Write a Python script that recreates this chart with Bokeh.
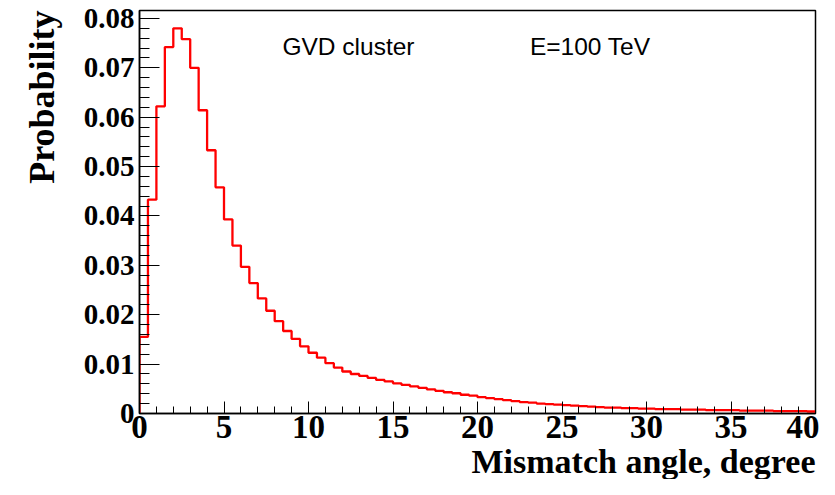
import numpy as np
from bokeh.plotting import figure
from bokeh.models import Range1d, SingleIntervalTicker, Label, Title
from bokeh.embed import file_html
from bokeh.resources import INLINE

# Histogram: mismatch angle (deg), bin width 0.5, range 0..40
bin_width = 0.5
x_start = 0.0
probability = [
    0.0155, 0.0433, 0.0622, 0.0742, 0.0780, 0.0758, 0.0700, 0.0614, 0.0533, 0.0458,
    0.0393, 0.0340, 0.0297, 0.0264, 0.0233, 0.0208, 0.0187, 0.0167, 0.0151, 0.0136,
    0.0123, 0.0113, 0.0102, 0.0093, 0.0085, 0.0080, 0.0076, 0.0072, 0.0068, 0.0065,
    0.0061, 0.0058, 0.0055, 0.0052, 0.0049, 0.0046, 0.0043, 0.0041, 0.0038, 0.0036,
    0.0033, 0.0031, 0.0029, 0.0027, 0.0025, 0.0023, 0.0022, 0.0020, 0.0019, 0.0018,
    0.0017, 0.0016, 0.0015, 0.0014, 0.0013, 0.0012, 0.0012, 0.0011, 0.0011, 0.0010,
    0.0010, 0.0009, 0.0009, 0.0009, 0.0008, 0.0008, 0.0008, 0.0007, 0.0007, 0.0007,
    0.0007, 0.0006, 0.0006, 0.0006, 0.0006, 0.0005, 0.0005, 0.0005, 0.0005, 0.0004,
]
x_title = "Mismatch angle, degree"
y_title = "Probability"
text_cluster = "GVD cluster"
text_energy = "E=100 TeV"

n = len(probability)
edges = x_start + bin_width * np.arange(n + 1)
step_x = np.concatenate([[edges[0]], edges])
step_y = np.concatenate([[0.0], probability, [probability[-1]]])

p = figure(width=819, height=479, output_backend="svg", toolbar_location=None,
           x_range=Range1d(0, 40), y_range=Range1d(0, 0.0816),
           min_border_left=139, min_border_right=4, min_border_top=10,
           min_border_bottom=64)
p.background_fill_color = "white"
p.border_fill_color = "white"
p.outline_line_color = "black"
p.outline_line_width = 1.5
p.grid.visible = False

p.step(step_x, step_y, mode="after", line_color="#ff0000", line_width=2.3)

serif = "Liberation Serif"
for ax in (p.xaxis[0], p.yaxis[0]):
    ax.axis_line_color = "black"
    ax.axis_line_width = 1.5
    ax.major_tick_line_color = "black"
    ax.minor_tick_line_color = "black"
    ax.major_tick_out = 0
    ax.minor_tick_out = 0
    ax.major_label_text_font = serif
    ax.major_label_text_font_style = "bold"
    ax.major_label_text_color = "black"

xa = p.xaxis[0]
xa.ticker = SingleIntervalTicker(interval=5, num_minor_ticks=5)
xa.major_tick_in = 12
xa.minor_tick_in = 7
xa.major_label_text_font_size = "33px"
xa.major_label_standoff = 2

ya = p.yaxis[0]
ya.ticker = SingleIntervalTicker(interval=0.01, num_minor_ticks=5)
ya.major_tick_in = 20
ya.minor_tick_in = 10
ya.major_label_text_font_size = "29px"
ya.major_label_standoff = 5
ya.major_label_overrides = {0: "0"}

p.add_layout(Title(text=x_title, align="right", text_font=serif, text_font_style="bold",
                   text_font_size="34px", text_color="black", standoff=0), "below")
p.add_layout(Title(text=y_title, align="right", text_font=serif, text_font_style="bold",
                   text_font_size="36px", text_color="black", standoff=37), "left")

p.add_layout(Label(x=8.46, y=0.0744, text=text_cluster, text_font="Liberation Sans",
                   text_font_size="24.5px", text_color="black", text_baseline="alphabetic"))
p.add_layout(Label(x=23.1, y=0.0744, text=text_energy, text_font="Liberation Sans",
                   text_font_size="24.5px", text_color="black", text_baseline="alphabetic"))

open("out.html", "w").write(file_html(p, INLINE))
